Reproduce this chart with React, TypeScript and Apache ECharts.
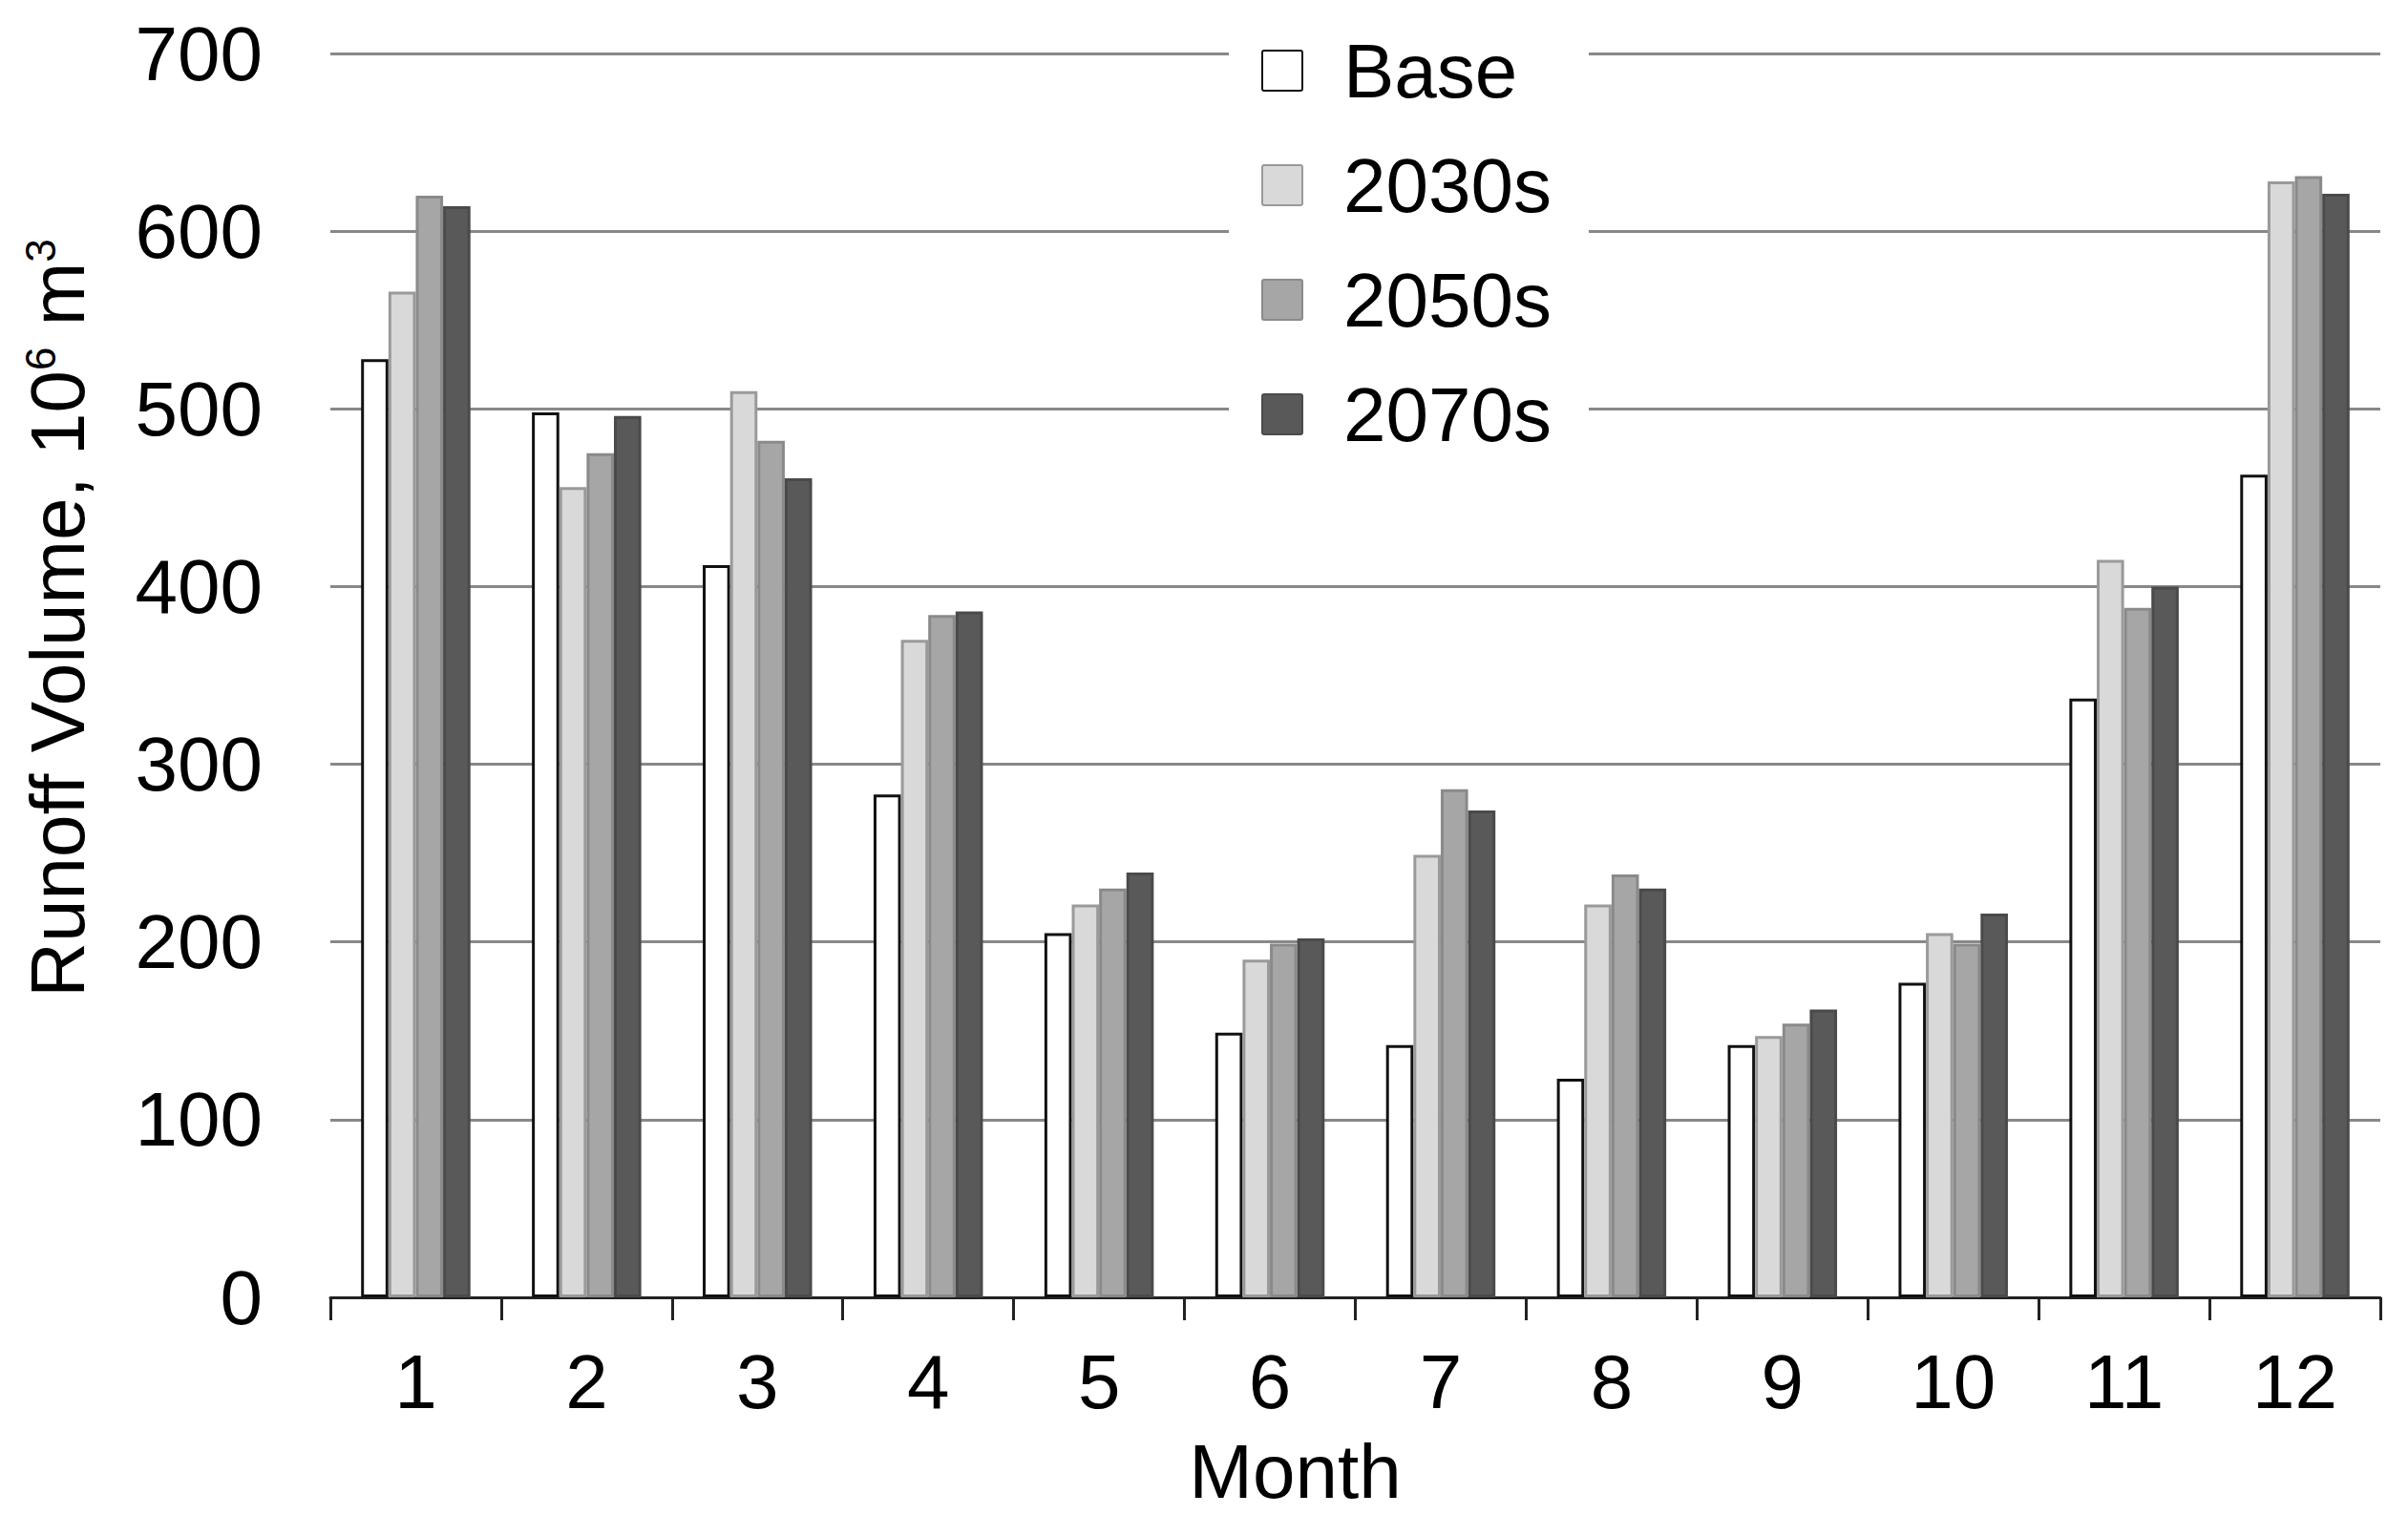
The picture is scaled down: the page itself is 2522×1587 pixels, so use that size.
import React, { useEffect, useRef } from "react";
import * as echarts from "echarts";

const months = ["1", "2", "3", "4", "5", "6", "7", "8", "9", "10", "11", "12"];
const seriesNames = ["Base", "2030s", "2050s", "2070s"];
const baseValues = [528, 498, 412, 283, 205, 149, 142, 123, 142, 177, 337, 463];
const v2030s = [566, 456, 510, 370, 221, 190, 249, 221, 147, 205, 415, 628];
const v2050s = [620, 475, 482, 384, 230, 199, 286, 238, 154, 199, 388, 631];
const v2070s = [614, 496, 461, 386, 239, 202, 274, 230, 162, 216, 400, 621];
const yTicks = [0, 100, 200, 300, 400, 500, 600, 700];

const fills = ["#ffffff", "#d9d9d9", "#a6a6a6", "#595959"];
const borders = ["#111111", "#9a9a9a", "#8a8a8a", "#4a4a4a"];

const FONT = "'Liberation Sans', Arial, sans-serif";

export default function App() {
  const ref = useRef<HTMLDivElement>(null);
  useEffect(() => {
    if (!ref.current) return;
    const chart = echarts.init(ref.current, undefined, { renderer: "svg" });
    const data = [baseValues, v2030s, v2050s, v2070s];
    chart.setOption({
      animation: false,
      backgroundColor: "#ffffff",
      textStyle: { fontFamily: FONT, color: "#000" },
      grid: { left: 346, right: 29, top: 56, bottom: 228, containLabel: false, outerBoundsMode: "none" },
      legend: {
        orient: "vertical",
        left: 1287,
        top: 22,
        data: seriesNames,
        icon: "path://M2,0 L40,0 Q42,0 42,2 L42,40 Q42,42 40,42 L2,42 Q0,42 0,40 L0,2 Q0,0 2,0 Z",
        itemWidth: 42,
        itemHeight: 42,
        itemGap: 40,
        padding: [12, 39, 24, 34],
        backgroundColor: "#ffffff",
        textStyle: { fontSize: 80, fontFamily: FONT, color: "#000", padding: [0, 0, 0, 38], lineHeight: 80 },
      },
      xAxis: {
        type: "category",
        data: months,
        name: "Month",
        nameLocation: "middle",
        nameGap: 142,
        nameTextStyle: { fontSize: 80, fontFamily: FONT, color: "#000", padding: [0, 126, 0, 0] },
        axisLine: { show: true, lineStyle: { color: "#222", width: 3 } },
        axisTick: { show: true, alignWithLabel: false, length: 24, lineStyle: { color: "#222", width: 3 } },
        axisLabel: { fontSize: 80, fontFamily: FONT, color: "#000", margin: 48 },
        splitLine: { show: false },
      },
      yAxis: {
        type: "value",
        min: 0,
        max: 700,
        interval: 100,
        name: "Runoff Volume, 10{sup|6} m{sup|3}",
        nameLocation: "middle",
        nameGap: 246,
        nameTextStyle: {
          fontSize: 80,
          fontFamily: FONT,
          color: "#000",
          padding: [0, 0, 0, 120],
          rich: {
            sup: { fontSize: 44, fontFamily: FONT, color: "#000", verticalAlign: "top", lineHeight: 80 },
          },
        },
        axisLine: { show: false },
        axisTick: { show: false },
        axisLabel: {
          fontSize: 80,
          fontFamily: FONT,
          color: "#000",
          margin: 71,
          formatter: (v: number) => (yTicks.includes(v) ? String(v) : ""),
        },
        splitLine: { show: true, lineStyle: { color: "#888888", width: 3 } },
      },
      series: seriesNames.map((name, i) => ({
        name,
        type: "bar",
        data: data[i],
        barGap: "0%",
        barCategoryGap: "36%",
        itemStyle: { color: fills[i], borderColor: borders[i], borderWidth: 3 },
      })),
    });
    return () => chart.dispose();
  }, []);
  return (
    <div
      ref={ref}
      style={{ position: "fixed", left: 0, top: 0, width: 2522, height: 1587, background: "#fff" }}
    />
  );
}
